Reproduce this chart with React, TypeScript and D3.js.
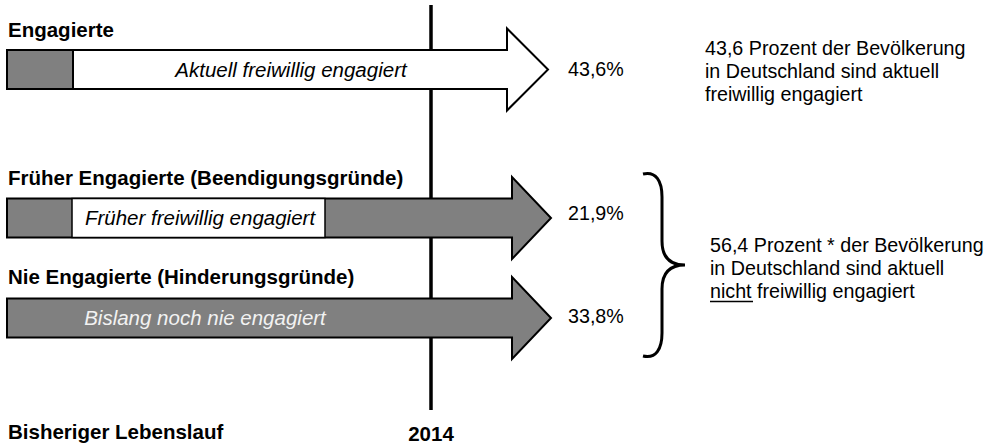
import React from "react";
import * as d3 from "d3";

// rows of the chart
const groupTitles = [
  "Engagierte",
  "Früher Engagierte (Beendigungsgründe)",
  "Nie Engagierte (Hinderungsgründe)",
];
const arrowLabels = [
  "Aktuell freiwillig engagiert",
  "Früher freiwillig engagiert",
  "Bislang noch nie engagiert",
];
const shares = [43.6, 21.9, 33.8];
const notEngaged = 56.4;
const axisYear = "2014";
const axisStart = "Bisheriger Lebenslauf";

const W = 1006;
const H = 446;
const font = "'Liberation Sans', Arial, sans-serif";
const gray = "#808080";

// row layout (centre line of each arrow)
const rowY = [69.5, 218, 318];
const headStart = [507, 512, 512];
const tipX = [548, 551, 551];
const bodyHalf = 19.5;
const headHalf = 41;

const fmt = (v: number) => d3.format(".1f")(v).replace(".", ",");

function arrowPath(y: number, x0: number, hx: number, tx: number) {
  const line = d3.line<[number, number]>();
  return (
    line([
      [x0, y - bodyHalf],
      [hx, y - bodyHalf],
      [hx, y - headHalf],
      [tx, y],
      [hx, y + headHalf],
      [hx, y + bodyHalf],
      [x0, y + bodyHalf],
    ]) + "Z"
  );
}

function bracePath() {
  const p = d3.path();
  const top = 173, bot = 357, mid = 265, x0 = 643, xs = 662, xp = 685;
  p.moveTo(x0, top + 1);
  p.bezierCurveTo(656, top - 2, xs, top + 8, xs, top + 24);
  p.lineTo(xs, mid - 24);
  p.bezierCurveTo(xs, mid - 8, 670, mid, xp, mid);
  p.bezierCurveTo(670, mid, xs, mid + 8, xs, mid + 24);
  p.lineTo(xs, bot - 24);
  p.bezierCurveTo(xs, bot - 8, 656, bot + 2, x0, bot - 1);
  return p.toString();
}

export default function App() {
  const x0 = 7;
  const engagedLines = [
    `${fmt(shares[0])} Prozent der Bevölkerung`,
    "in Deutschland sind aktuell",
    "freiwillig engagiert",
  ];
  return (
    <svg width={W} height={H} style={{ position: "absolute", left: 0, top: 0, background: "#fff" }}>
      <rect width={W} height={H} fill="#fff" />
      {/* 2014 timeline */}
      <line x1={431} x2={431} y1={5} y2={410} stroke="#000" strokeWidth={3.5} />

      {/* arrows */}
      <path d={arrowPath(rowY[0], x0, headStart[0], tipX[0])} fill="#fff" stroke="#000" strokeWidth={2} />
      <rect x={x0} y={rowY[0] - bodyHalf} width={66} height={bodyHalf * 2} fill={gray} stroke="#000" strokeWidth={2} />

      <path d={arrowPath(rowY[1], x0, headStart[1], tipX[1])} fill={gray} stroke="#000" strokeWidth={2} />
      <rect x={72} y={rowY[1] - bodyHalf} width={253} height={bodyHalf * 2} fill="#fff" stroke="#000" strokeWidth={1.5} />

      <path d={arrowPath(rowY[2], x0, headStart[2], tipX[2])} fill={gray} stroke="#000" strokeWidth={2} />

      <g fontFamily={font} fontStyle="italic" fontSize={20.5}>
        <text x={291} y={rowY[0] + 7} textAnchor="middle" fill="#000">{arrowLabels[0]}</text>
        <text x={200} y={rowY[1] + 7} textAnchor="middle" fill="#000">{arrowLabels[1]}</text>
        <text x={205} y={rowY[2] + 7} textAnchor="middle" fill="#f2f2f2">{arrowLabels[2]}</text>
      </g>

      <g fontFamily={font} fontWeight="bold" fontSize={20.5} fill="#000">
        <text x={8} y={37}>{groupTitles[0]}</text>
        <text x={8} y={185}>{groupTitles[1]}</text>
        <text x={8} y={284}>{groupTitles[2]}</text>
        <text x={8} y={439}>{axisStart}</text>
        <text x={431} y={441} textAnchor="middle">{axisYear}</text>
      </g>

      <g fontFamily={font} fontSize={19.7} fill="#000">
        <text x={568} y={76}>{fmt(shares[0])}%</text>
        <text x={568} y={220}>{fmt(shares[1])}%</text>
        <text x={568} y={323}>{fmt(shares[2])}%</text>
        {engagedLines.map((t, i) => (
          <text key={i} x={705} y={55 + i * 23}>{t}</text>
        ))}
        <text x={710} y={252}>{`${fmt(notEngaged)} Prozent * der Bevölkerung`}</text>
        <text x={710} y={275}>in Deutschland sind aktuell</text>
        <text x={710} y={298}>nicht freiwillig engagiert</text>
      </g>
      <line x1={710} x2={753} y1={301.5} y2={301.5} stroke="#000" strokeWidth={1.3} />

      <path d={bracePath()} fill="none" stroke="#000" strokeWidth={3} />
    </svg>
  );
}
